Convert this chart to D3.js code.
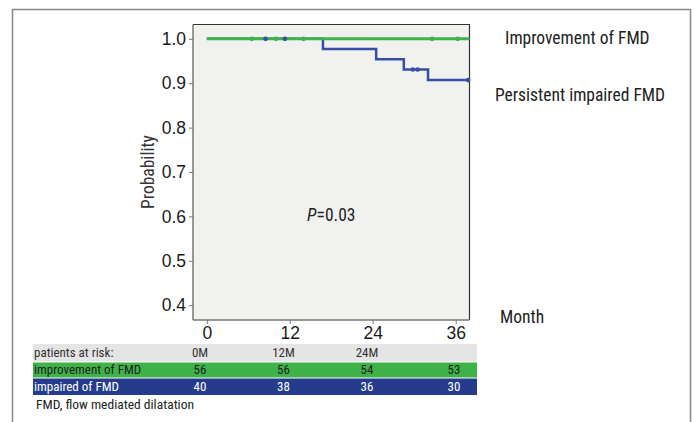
<!DOCTYPE html>
<html>
<head>
<meta charset="utf-8">
<script src="https://cdn.jsdelivr.net/npm/d3@7"></script>
<style>
  body { margin: 0; background: #fff; }
  svg { display: block; font-family: "Liberation Sans Narrow", "Roboto Condensed", "Liberation Sans", sans-serif; }
</style>
</head>
<body>
<div id="chart"></div>
<script>
// curves: [month, probability] step points, censor marks as months
const improvedSteps = [[0, 1.0], [38, 1.0]];
const improvedCensor = [6.5, 10.0, 14.0, 32.6, 36.3];
const impairedSteps = [[0, 1.0], [16.8, 0.977], [24.5, 0.954], [28.5, 0.931], [32.0, 0.907], [38, 0.907]];
const impairedCensor = [[8.5, 1.0], [11.3, 1.0], [29.8, 0.931], [30.5, 0.931], [37.8, 0.907]];

const xTicks = [0, 12, 24, 36];
const yTicks = [0.4, 0.5, 0.6, 0.7, 0.8, 0.9, 1.0];

const riskHeader = ["patients at risk:", "0M", "12M", "24M", ""];
const riskImproved = ["improvement of FMD", "56", "56", "54", "53"];
const riskImpaired = ["impaired of FMD", "40", "38", "36", "30"];

const green = "#3db34b";
const blue = "#3350a5";
const blueRow = "#253c8c";

const svg = d3.select("#chart").append("svg")
  .attr("width", 694).attr("height", 422);

// outer frame
svg.append("path")
  .attr("d", "M12.5,422 V9.5 H690.5 V422")
  .attr("fill", "none").attr("stroke", "#888").attr("stroke-width", 1.5);

const plot = { left: 193, right: 469.5, top: 24.5, bottom: 320 };

const x = d3.scaleLinear().domain([-2, 38]).range([plot.left, plot.right]);
const y = d3.scaleLinear().domain([0.3666, 1.0323]).range([plot.bottom, plot.top]);

svg.append("rect")
  .attr("x", plot.left).attr("y", plot.top)
  .attr("width", plot.right - plot.left).attr("height", plot.bottom - plot.top)
  .attr("fill", "#f1f1f0");

// top/right border dark
svg.append("path")
  .attr("d", `M${plot.left},${plot.top} H${plot.right} V${plot.bottom}`)
  .attr("fill", "none").attr("stroke", "#333").attr("stroke-width", 1.2);

const yAxis = svg.append("g")
  .attr("transform", `translate(${plot.left},0)`)
  .call(d3.axisLeft(y).tickValues(yTicks).tickFormat(d3.format(".1f")).tickSize(4).tickPadding(3));
const xAxis = svg.append("g")
  .attr("transform", `translate(0,${plot.bottom})`)
  .call(d3.axisBottom(x).tickValues(xTicks).tickSize(4).tickPadding(3));
[xAxis, yAxis].forEach(g => {
  g.select(".domain").attr("stroke", "#777").attr("stroke-width", 1.5);
  g.selectAll(".tick line").attr("stroke", "#777");
  g.selectAll(".tick text").attr("fill", "#1a1a1a").style("font-size", "17.5px");
});
yAxis.select(".domain").attr("d", `M0,${plot.top}V${plot.bottom}`);
xAxis.select(".domain").attr("d", `M${plot.left},0H${plot.right}`);

svg.append("text")
  .attr("transform", `translate(149,${y(0.7)}) rotate(-90)`)
  .attr("text-anchor", "middle").attr("dominant-baseline", "middle")
  .attr("fill", "#333").style("font-size", "17.5px").text("Probability");

const line = d3.line().x(d => x(d[0])).y(d => y(d[1])).curve(d3.curveStepAfter);

svg.append("path").datum(impairedSteps)
  .attr("d", line).attr("fill", "none").attr("stroke", blue).attr("stroke-width", 2.5);
svg.append("path").datum(improvedSteps)
  .attr("d", line).attr("fill", "none").attr("stroke", green).attr("stroke-width", 3);

svg.selectAll(".cg").data(improvedCensor).join("circle")
  .attr("cx", d => x(d)).attr("cy", y(1.0)).attr("r", 2.3).attr("fill", green);
svg.selectAll(".cb").data(impairedCensor).join("circle")
  .attr("cx", d => x(d[0])).attr("cy", d => y(d[1])).attr("r", 2.3).attr("fill", blue);

// p value
const pt = svg.append("text").attr("x", x(18)).attr("y", y(0.6))
  .attr("text-anchor", "middle").attr("dominant-baseline", "middle")
  .attr("fill", "#222").style("font-size", "17.5px");
pt.append("tspan").style("font-style", "italic").text("P");
pt.append("tspan").text("=0.03");

// legend labels
svg.append("text").attr("x", 505).attr("y", 39).attr("dominant-baseline", "middle")
  .attr("fill", "#222").style("font-size", "17.5px").text("Improvement of FMD");
svg.append("text").attr("x", 495).attr("y", 96).attr("dominant-baseline", "middle")
  .attr("fill", "#222").style("font-size", "17.5px").text("Persistent impaired FMD");
svg.append("text").attr("x", 500).attr("y", 318).attr("dominant-baseline", "middle")
  .attr("fill", "#222").style("font-size", "17.5px").text("Month");

// risk table
const colX = [null, 200, 283.5, 367, 454];
const rows = [
  { cells: riskHeader, y0: 344, h: 17.5, fill: "#e5e5e5", color: "#333" },
  { cells: riskImproved, y0: 362.5, h: 15, fill: "#3fb34a", color: "#222" },
  { cells: riskImpaired, y0: 378.5, h: 16.5, fill: blueRow, color: "#fff" }
];
rows.forEach(r => {
  svg.append("rect").attr("x", 33).attr("y", r.y0).attr("width", 444).attr("height", r.h).attr("fill", r.fill);
  r.cells.forEach((c, i) => {
    svg.append("text")
      .attr("x", i === 0 ? 34 : colX[i]).attr("y", r.y0 + r.h / 2 + 0.5)
      .attr("text-anchor", i === 0 ? "start" : "middle")
      .attr("dominant-baseline", "middle")
      .attr("fill", r.color).style("font-size", "13px").text(c);
  });
});

svg.append("text").attr("x", 36).attr("y", 405).attr("dominant-baseline", "middle")
  .attr("fill", "#222").style("font-size", "13.5px").text("FMD, flow mediated dilatation");
</script>
</body>
</html>
